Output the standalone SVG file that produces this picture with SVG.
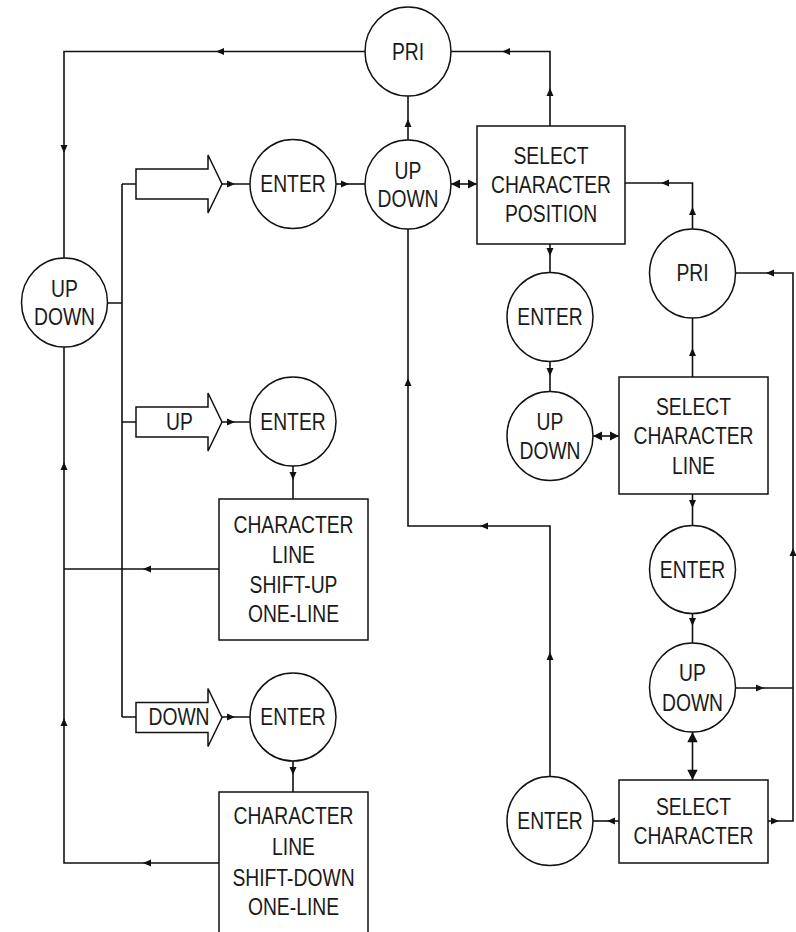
<svg xmlns="http://www.w3.org/2000/svg" xmlns:xlink="http://www.w3.org/1999/xlink" width="796" height="932" viewBox="0 0 796 932">
<style>
.n{fill:#fff;stroke:#111;stroke-width:1.5}
.t{font-family:"Liberation Sans",Arial,sans-serif;font-size:23px;fill:#1a1a1a;text-anchor:middle}
.c{fill:none;stroke:#111;stroke-width:1.6}
</style>
<defs>
<polygon id="ah" points="0,0 -8,-3.5 -8,3.5" fill="#111"/>
<polygon id="ah2" points="0,0 -9,-4.5 -9,4.5" fill="#111"/>
</defs>
<rect width="796" height="932" fill="#fff"/>
<g id="connectors">
<path class="c" d="M365,51.5 H64 V258"/>
<path class="c" d="M107,303 H122 M122,184 V717 M122,184 H136 M122,422 H136 M122,717 H136"/>
<path class="c" d="M222,184 H250 M222,422 H250 M222,717 H250"/>
<path class="c" d="M336,184 H365"/>
<path class="c" d="M408,140 V96"/>
<path class="c" d="M451,184 H477"/>
<path class="c" d="M550,126 V51.5 H451"/>
<path class="c" d="M692.5,229 V183 H625"/>
<path class="c" d="M550,244 V273"/>
<path class="c" d="M550,361 V392"/>
<path class="c" d="M593,436 H619"/>
<path class="c" d="M692.5,377 V318"/>
<path class="c" d="M692.5,494 V526"/>
<path class="c" d="M692.5,613 V643"/>
<path class="c" d="M735,688 H793"/>
<path class="c" d="M692.5,732 V780"/>
<path class="c" d="M619,821 H593"/>
<path class="c" d="M768,821 H793 V273 H735"/>
<path class="c" d="M550,776 V526 H408 V229"/>
<path class="c" d="M293,466 V499"/>
<path class="c" d="M219,569 H64"/>
<path class="c" d="M64,347 V863 H219"/>
<path class="c" d="M293,761 V792"/>
<use xlink:href="#ah" transform="translate(216,51.5) rotate(180)"/>
<use xlink:href="#ah" transform="translate(64,153) rotate(90)"/>
<use xlink:href="#ah" transform="translate(235,184)"/>
<use xlink:href="#ah" transform="translate(235,422)"/>
<use xlink:href="#ah" transform="translate(235,717)"/>
<use xlink:href="#ah" transform="translate(349,184)"/>
<use xlink:href="#ah" transform="translate(408,119) rotate(270)"/>
<use xlink:href="#ah2" transform="translate(451,184) rotate(180)"/>
<use xlink:href="#ah2" transform="translate(477,184)"/>
<use xlink:href="#ah" transform="translate(550,88) rotate(270)"/>
<use xlink:href="#ah" transform="translate(502,51.5) rotate(180)"/>
<use xlink:href="#ah" transform="translate(692.5,207) rotate(270)"/>
<use xlink:href="#ah" transform="translate(661,183) rotate(180)"/>
<use xlink:href="#ah" transform="translate(550,256) rotate(90)"/>
<use xlink:href="#ah" transform="translate(550,376) rotate(90)"/>
<use xlink:href="#ah2" transform="translate(593,436) rotate(180)"/>
<use xlink:href="#ah2" transform="translate(619,436)"/>
<use xlink:href="#ah" transform="translate(692.5,348) rotate(270)"/>
<use xlink:href="#ah" transform="translate(692.5,508) rotate(90)"/>
<use xlink:href="#ah" transform="translate(692.5,626) rotate(90)"/>
<use xlink:href="#ah" transform="translate(764,688)"/>
<use xlink:href="#ah2" transform="translate(692.5,732) rotate(270) scale(1.15)"/>
<use xlink:href="#ah2" transform="translate(692.5,780) rotate(90) scale(1.15)"/>
<use xlink:href="#ah" transform="translate(607,821) rotate(180)"/>
<use xlink:href="#ah" transform="translate(779,821)"/>
<use xlink:href="#ah" transform="translate(793,548) rotate(270)"/>
<use xlink:href="#ah" transform="translate(766,273) rotate(180)"/>
<use xlink:href="#ah" transform="translate(550,652) rotate(270)"/>
<use xlink:href="#ah" transform="translate(480,526) rotate(180)"/>
<use xlink:href="#ah" transform="translate(408,378) rotate(270)"/>
<use xlink:href="#ah" transform="translate(293,480) rotate(90)"/>
<use xlink:href="#ah" transform="translate(143,569) rotate(180)"/>
<use xlink:href="#ah" transform="translate(64,462) rotate(270)"/>
<use xlink:href="#ah" transform="translate(64,718) rotate(270)"/>
<use xlink:href="#ah" transform="translate(293,775) rotate(90)"/>
<use xlink:href="#ah" transform="translate(143,863) rotate(180)"/>
</g>
<g id="pri-top"><ellipse class="n" cx="408" cy="51.5" rx="43" ry="44.5"/><text class="t" transform="translate(408,59.5) scale(.84,1)">PRI</text></g>
<g id="enter-top"><ellipse class="n" cx="293" cy="184" rx="43" ry="44.5"/><text class="t" transform="translate(293,192) scale(.84,1)">ENTER</text></g>
<g id="updown-center"><ellipse class="n" cx="408" cy="184.5" rx="43" ry="44.5"/><text class="t" transform="translate(408,178.5) scale(.84,1)">UP</text><text class="t" transform="translate(408,206.5) scale(.84,1)">DOWN</text></g>
<g id="updown-left"><ellipse class="n" cx="64.5" cy="302.5" rx="43" ry="44.5"/><text class="t" transform="translate(64.5,296.5) scale(.84,1)">UP</text><text class="t" transform="translate(64.5,324.5) scale(.84,1)">DOWN</text></g>
<g id="select-position"><rect class="n" x="477" y="126" width="148" height="118"/><text class="t" transform="translate(551,163.5) scale(.84,1)">SELECT</text><text class="t" transform="translate(551,192.5) scale(.84,1)">CHARACTER</text><text class="t" transform="translate(551,221.5) scale(.84,1)">POSITION</text></g>
<g id="pri-right"><ellipse class="n" cx="692.5" cy="273.5" rx="43" ry="44.5"/><text class="t" transform="translate(692.5,280.5) scale(.84,1)">PRI</text></g>
<g id="enter-mid"><ellipse class="n" cx="550" cy="317" rx="43" ry="44.5"/><text class="t" transform="translate(550,324.5) scale(.84,1)">ENTER</text></g>
<g id="updown-mid"><ellipse class="n" cx="550" cy="436" rx="43" ry="44.5"/><text class="t" transform="translate(550,430) scale(.84,1)">UP</text><text class="t" transform="translate(550,458.5) scale(.84,1)">DOWN</text></g>
<g id="select-line"><rect class="n" x="619" y="377" width="149" height="117"/><text class="t" transform="translate(693.5,414.5) scale(.84,1)">SELECT</text><text class="t" transform="translate(693.5,444) scale(.84,1)">CHARACTER</text><text class="t" transform="translate(693.5,473.5) scale(.84,1)">LINE</text></g>
<g id="enter-right"><ellipse class="n" cx="692.5" cy="569.5" rx="43" ry="44"/><text class="t" transform="translate(692.5,578) scale(.84,1)">ENTER</text></g>
<g id="updown-right"><ellipse class="n" cx="692.5" cy="687.5" rx="43" ry="44.5"/><text class="t" transform="translate(692.5,681) scale(.84,1)">UP</text><text class="t" transform="translate(692.5,711) scale(.84,1)">DOWN</text></g>
<g id="select-character"><rect class="n" x="619" y="780" width="149" height="83"/><text class="t" transform="translate(693.5,814.5) scale(.84,1)">SELECT</text><text class="t" transform="translate(693.5,844) scale(.84,1)">CHARACTER</text></g>
<g id="enter-bottom"><ellipse class="n" cx="550" cy="821" rx="43" ry="44.5"/><text class="t" transform="translate(550,828.5) scale(.84,1)">ENTER</text></g>
<g id="block-arrow-1"><polygon class="n" points="136,169 208,169 208,155 222,184 208,213 208,199 136,199"/></g>
<g id="block-arrow-up"><polygon class="n" points="136,407 208,407 208,393 222,422 208,451 208,437 136,437"/><text class="t" transform="translate(179.5,430) scale(.84,1)">UP</text></g>
<g id="block-arrow-down"><polygon class="n" points="136,702.5 208,702.5 208,688.5 222,717.5 208,746.5 208,732.5 136,732.5"/><text class="t" transform="translate(179,724.5) scale(.84,1)">DOWN</text></g>
<g id="enter-up"><ellipse class="n" cx="293" cy="421.5" rx="43" ry="44.5"/><text class="t" transform="translate(293,430) scale(.84,1)">ENTER</text></g>
<g id="shift-up"><rect class="n" x="219" y="499" width="149" height="141"/><text class="t" transform="translate(293.5,532.5) scale(.84,1)">CHARACTER</text><text class="t" transform="translate(293.5,562.5) scale(.84,1)">LINE</text><text class="t" transform="translate(293.5,592.5) scale(.84,1)">SHIFT-UP</text><text class="t" transform="translate(293.5,621.5) scale(.84,1)">ONE-LINE</text></g>
<g id="enter-down"><ellipse class="n" cx="293" cy="717" rx="43" ry="44"/><text class="t" transform="translate(293,724.5) scale(.84,1)">ENTER</text></g>
<g id="shift-down"><rect class="n" x="219" y="792" width="149" height="150"/><text class="t" transform="translate(293.5,824) scale(.84,1)">CHARACTER</text><text class="t" transform="translate(293.5,855) scale(.84,1)">LINE</text><text class="t" transform="translate(293.5,886) scale(.84,1)">SHIFT-DOWN</text><text class="t" transform="translate(293.5,915) scale(.84,1)">ONE-LINE</text></g>
</svg>
